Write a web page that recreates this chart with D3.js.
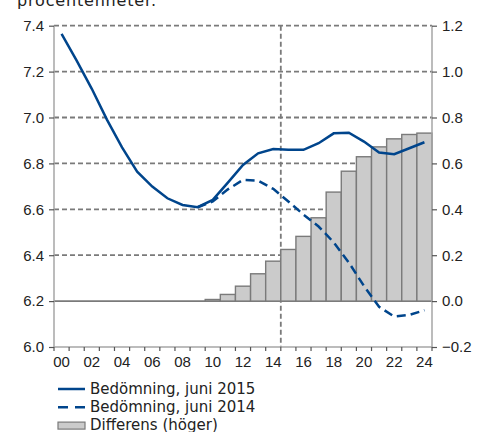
<!DOCTYPE html>
<html>
<head>
<meta charset="utf-8">
<script src="https://cdn.jsdelivr.net/npm/d3@7"></script>
<style>
  body { margin: 0; background: #fff; }
  svg { font-family: "DejaVu Sans", Verdana, sans-serif; }
</style>
</head>
<body>
<div id="chart"></div>
<script>
// years 2000-2024, shown as two digits
var years = ["00","01","02","03","04","05","06","07","08","09","10","11","12",
             "13","14","15","16","17","18","19","20","21","22","23","24"];

// Bedömning, juni 2015 (vänster axel)
var bedomning2015 = [7.364, 7.248, 7.125, 6.991, 6.870, 6.764, 6.699, 6.648, 6.619, 6.609,
                     6.641, 6.716, 6.793, 6.844, 6.863, 6.859, 6.859, 6.888, 6.931, 6.934,
                     6.895, 6.847, 6.840, 6.866, 6.892];

// Bedömning, juni 2014 (vänster axel)
var bedomning2014 = [7.364, 7.248, 7.125, 6.991, 6.870, 6.764, 6.699, 6.648, 6.619, 6.609,
                     6.634, 6.687, 6.728, 6.725, 6.689, 6.634, 6.577, 6.525, 6.456, 6.368,
                     6.266, 6.175, 6.133, 6.140, 6.160];

// Differens (höger axel)
var differens = [0, 0, 0, 0, 0, 0, 0, 0, 0, 0,
                 0.007, 0.029, 0.065, 0.119, 0.174, 0.225, 0.282, 0.363, 0.475, 0.566,
                 0.629, 0.672, 0.707, 0.726, 0.732];

var leftTicks = [6.0, 6.2, 6.4, 6.6, 6.8, 7.0, 7.2, 7.4];
var rightTicks = [-0.2, 0.0, 0.2, 0.4, 0.6, 0.8, 1.0, 1.2];

var legendLabels = ["Bedömning, juni 2015", "Bedömning, juni 2014", "Differens (höger)"];

var width = 484, height = 432;
var plotLeft = 54, plotRight = 432, plotTop = 25.7, plotBottom = 347;
var blue = "#00458c", gridGray = "#7a7a7a", axisGray = "#a6a6a6";

var svg = d3.select("#chart").append("svg")
  .attr("width", width)
  .attr("height", height);

var x = d3.scaleBand().domain(years).range([plotLeft, plotRight]).padding(0);
var yLeft = d3.scaleLinear().domain([6.0, 7.4]).range([plotBottom, plotTop]);
var yRight = d3.scaleLinear().domain([-0.2, 1.2]).range([plotBottom, plotTop]);

// title, cut off at the top
svg.append("text")
  .attr("x", 17).attr("y", 6)
  .attr("textLength", 139)
  .style("font-size", "16px")
  .attr("fill", "#222")
  .text("procentenheter.");

// horizontal grid
svg.append("g").selectAll("line")
  .data(leftTicks.filter(function (d) { return d > 6.0; }))
  .enter().append("line")
  .attr("x1", plotLeft).attr("x2", plotRight)
  .attr("y1", function (d) { return yLeft(d); })
  .attr("y2", function (d) { return yLeft(d); })
  .attr("stroke", gridGray)
  .attr("stroke-width", 1.8)
  .attr("stroke-dasharray", function (d) { return Math.abs(d - 6.2) < 1e-9 ? null : "5,3"; });

// vertical dashed line between 2014 and 2015
var splitX = x("15");
svg.append("line")
  .attr("x1", splitX).attr("x2", splitX)
  .attr("y1", plotTop).attr("y2", plotBottom)
  .attr("stroke", gridGray)
  .attr("stroke-width", 1.8)
  .attr("stroke-dasharray", "5,3");

// bars (right axis)
svg.append("g").selectAll("rect")
  .data(differens)
  .enter().append("rect")
  .attr("x", function (d, i) { return x(years[i]); })
  .attr("width", x.bandwidth())
  .attr("y", function (d) { return yRight(Math.max(0, d)); })
  .attr("height", function (d) { return Math.abs(yRight(d) - yRight(0)); })
  .attr("fill", "#cbcbcb")
  .attr("stroke", "#7a7a7a")
  .attr("stroke-width", 1.4);

// axes
var leftAxis = d3.axisLeft(yLeft).tickValues(leftTicks).tickFormat(d3.format(".1f")).tickSize(5).tickPadding(5);
var rightAxis = d3.axisRight(yRight).tickValues(rightTicks).tickFormat(d3.format(".1f")).tickSize(5).tickPadding(5);
var bottomAxis = d3.axisBottom(x)
  .tickValues(years)
  .tickSize(0)
  .tickPadding(9)
  .tickFormat(function (d, i) { return i % 2 === 0 ? d : ""; });

function styleAxis(g) {
  g.select(".domain").attr("stroke", axisGray).attr("stroke-width", 1.5);
  g.selectAll(".tick line").attr("stroke", "#555").attr("stroke-width", 1.2);
  g.selectAll(".tick text").style("font-size", "15px").attr("fill", "#222");
}

svg.append("g").attr("transform", "translate(" + plotLeft + ",0)").call(leftAxis).call(styleAxis)
  .select(".domain").attr("d", "M0," + plotTop + "V" + plotBottom);
svg.append("g").attr("transform", "translate(" + plotRight + ",0)").call(rightAxis).call(styleAxis)
  .select(".domain").attr("d", "M0," + plotTop + "V" + plotBottom);
var gx = svg.append("g").attr("transform", "translate(0," + plotBottom + ")").call(bottomAxis).call(styleAxis);
gx.select(".domain").attr("d", "M" + plotLeft + ",0H" + plotRight);

// tick marks at the band edges
gx.selectAll(".edge")
  .data(years.concat(["end"]))
  .enter().append("line")
  .attr("class", "edge")
  .attr("x1", function (d, i) { return plotLeft + i * x.bandwidth(); })
  .attr("x2", function (d, i) { return plotLeft + i * x.bandwidth(); })
  .attr("y1", 0).attr("y2", 4)
  .attr("stroke", "#555")
  .attr("stroke-width", 1.2);

// lines
var line = d3.line()
  .x(function (d, i) { return x(years[i]) + x.bandwidth() / 2; })
  .y(function (d) { return yLeft(d); });

svg.append("path")
  .datum(bedomning2015)
  .attr("d", line)
  .attr("fill", "none")
  .attr("stroke", blue)
  .attr("stroke-width", 2.5);

svg.append("path")
  .datum(bedomning2014.slice(9))
  .attr("d", d3.line()
    .x(function (d, i) { return x(years[i + 9]) + x.bandwidth() / 2; })
    .y(function (d) { return yLeft(d); }))
  .attr("fill", "none")
  .attr("stroke", blue)
  .attr("stroke-width", 2.5)
  .attr("stroke-dasharray", "9,5");

// legend
var legend = svg.append("g").attr("transform", "translate(58,389)");
var rows = legend.selectAll("g")
  .data(legendLabels)
  .enter().append("g")
  .attr("transform", function (d, i) { return "translate(0," + (i * 18.3) + ")"; });

rows.each(function (d, i) {
  var row = d3.select(this);
  if (i < 2) {
    row.append("line")
      .attr("x1", 0).attr("x2", 27)
      .attr("y1", 0).attr("y2", 0)
      .attr("stroke", blue)
      .attr("stroke-width", 2.5)
      .attr("stroke-dasharray", i === 1 ? "10,7" : null);
  } else {
    row.append("rect")
      .attr("x", 0).attr("y", -3.5)
      .attr("width", 27).attr("height", 7)
      .attr("fill", "#cbcbcb")
      .attr("stroke", "#7a7a7a")
      .attr("stroke-width", 1.2);
  }
  row.append("text")
    .attr("x", 32).attr("y", 4.5)
    .style("font-size", "15px")
    .attr("fill", "#222")
    .text(d);
});
</script>
</body>
</html>
